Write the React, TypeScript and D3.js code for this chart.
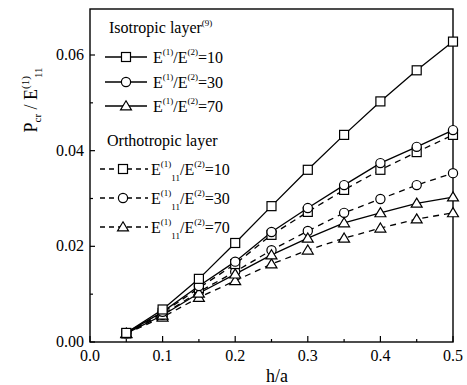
import React from "react";
import * as d3 from "d3";

// h/a values shared by every curve
const hOverA = [0.05, 0.1, 0.15, 0.2, 0.25, 0.3, 0.35, 0.4, 0.45, 0.5];

// Isotropic layer, E(1)/E(2) = 10, 30, 70
const iso10 = [0.0019, 0.0068, 0.0132, 0.0207, 0.0284, 0.036, 0.0433, 0.0503, 0.0568, 0.0628];
const iso30 = [0.0019, 0.0063, 0.0117, 0.0168, 0.023, 0.028, 0.0328, 0.0374, 0.0408, 0.0443];
const iso70 = [0.0018, 0.0056, 0.0102, 0.0142, 0.0182, 0.0217, 0.0249, 0.027, 0.029, 0.0303];

// Orthotropic layer, E11(1)/E(2) = 10, 30, 70
const ortho10 = [0.0018, 0.0061, 0.0113, 0.0163, 0.0224, 0.0272, 0.0318, 0.036, 0.0397, 0.0433];
const ortho30 = [0.0018, 0.0057, 0.0105, 0.0147, 0.0192, 0.0232, 0.027, 0.0299, 0.0328, 0.0353];
const ortho70 = [0.0017, 0.0052, 0.0093, 0.0128, 0.0163, 0.0192, 0.0217, 0.0238, 0.0257, 0.027];

const xTicks = [0, 0.1, 0.2, 0.3, 0.4, 0.5];
const xMinor = [0.05, 0.15, 0.25, 0.35, 0.45];
const yTicks = [0, 0.02, 0.04, 0.06];
const yMinor = [0.01, 0.03, 0.05];

const ratios = ["10", "30", "70"];

type Marker = "square" | "circle" | "triangle";

const series: { values: number[]; marker: Marker; dashed: boolean }[] = [
  { values: ortho70, marker: "triangle", dashed: true },
  { values: ortho30, marker: "circle", dashed: true },
  { values: ortho10, marker: "square", dashed: true },
  { values: iso70, marker: "triangle", dashed: false },
  { values: iso30, marker: "circle", dashed: false },
  { values: iso10, marker: "square", dashed: false },
];

const FONT = "'Liberation Serif', 'Times New Roman', serif";
const DASH = "6,5";

function Symbol({ kind, x, y }: { kind: Marker; x: number; y: number }) {
  const common = { fill: "#fff", stroke: "#000", strokeWidth: 1.2 };
  if (kind === "square") return <rect x={x - 4.5} y={y - 4.5} width={9} height={9} {...common} />;
  if (kind === "circle") return <circle cx={x} cy={y} r={4.6} {...common} />;
  const s = 5.2;
  return (
    <path
      d={`M${x},${y - s} L${x + s * 1.05},${y + s * 0.75} L${x - s * 1.05},${y + s * 0.75} Z`}
      {...common}
    />
  );
}

export default function App() {
  const left = 90, right = 453, top = 9, bottom = 342;
  const x = d3.scaleLinear().domain([0, 0.5]).range([left, right]);
  const y = d3.scaleLinear().domain([0, 0.06]).range([bottom, 55]);

  const line = (vals: number[]) =>
    d3
      .line<number>()
      .x((_, i) => x(hOverA[i]))
      .y((v) => y(v))(vals) as string;

  const isoRows = [57, 82, 106];
  const orthoRows = [169, 198, 227];
  const markers: Marker[] = ["square", "circle", "triangle"];

  return (
    <svg width={467} height={385} style={{ position: "absolute", left: 0, top: 0, background: "#fff" }}>
      <rect x={0} y={0} width={467} height={385} fill="#fff" />
      {/* frame */}
      <rect x={left} y={top} width={right - left} height={bottom - top} fill="none" stroke="#000" strokeWidth={1.4} />

      {/* x ticks */}
      {xTicks.map((t) => (
        <g key={"xt" + t}>
          <line x1={x(t)} x2={x(t)} y1={bottom} y2={bottom - 6} stroke="#000" strokeWidth={1.2} />
          <text x={x(t)} y={361} textAnchor="middle" fontFamily={FONT} fontSize={16}>
            {t.toFixed(1)}
          </text>
        </g>
      ))}
      {xMinor.map((t) => (
        <line key={"xm" + t} x1={x(t)} x2={x(t)} y1={bottom} y2={bottom - 3} stroke="#000" strokeWidth={1.2} />
      ))}
      {/* y ticks */}
      {yTicks.map((t) => (
        <g key={"yt" + t}>
          <line x1={left} x2={left + 5} y1={y(t)} y2={y(t)} stroke="#000" strokeWidth={1.2} />
          <text x={84} y={y(t) + 5} textAnchor="end" fontFamily={FONT} fontSize={16}>
            {t.toFixed(2)}
          </text>
        </g>
      ))}
      {yMinor.map((t) => (
        <line key={"ym" + t} x1={left} x2={left + 3} y1={y(t)} y2={y(t)} stroke="#000" strokeWidth={1.2} />
      ))}

      {/* axis titles */}
      <text x={277} y={382} textAnchor="middle" fontFamily={FONT} fontSize={18}>
        h/a
      </text>
      <text transform="translate(37,100) rotate(-90)" textAnchor="middle" fontFamily={FONT} fontSize={18}>
        P
        <tspan fontSize={11} dy={4}>cr</tspan>
        <tspan dy={-4}> / E</tspan>
        <tspan fontSize={11} dy={-8}>(1)</tspan>
        <tspan fontSize={11} dy={13} dx={-2}>11</tspan>
      </text>

      {/* curves */}
      {series.map((s, k) => (
        <path
          key={"l" + k}
          d={line(s.values)}
          fill="none"
          stroke="#000"
          strokeWidth={1.3}
          strokeDasharray={s.dashed ? DASH : undefined}
        />
      ))}
      {series.map((s, k) =>
        s.values.map((v, i) => <Symbol key={`m${k}-${i}`} kind={s.marker} x={x(hOverA[i])} y={y(v)} />)
      )}

      {/* legend */}
      <text x={109} y={33} fontFamily={FONT} fontSize={16}>
        Isotropic layer
        <tspan fontSize={9} dy={-7}>(9)</tspan>
      </text>
      {isoRows.map((ry, i) => (
        <g key={"li" + i}>
          <line x1={105} x2={147} y1={ry} y2={ry} stroke="#000" strokeWidth={1.3} />
          <Symbol kind={markers[i]} x={126} y={ry} />
          <text x={153} y={ry + 6} fontFamily={FONT} fontSize={16}>
            E<tspan fontSize={9} dy={-8}>(1)</tspan>
            <tspan dy={8}>/E</tspan>
            <tspan fontSize={9} dy={-8}>(2)</tspan>
            <tspan dy={8}>={ratios[i]}</tspan>
          </text>
        </g>
      ))}
      <text x={107} y={146} fontFamily={FONT} fontSize={16}>
        Orthotropic layer
      </text>
      {orthoRows.map((ry, i) => (
        <g key={"lo" + i}>
          <line x1={100} x2={148} y1={ry} y2={ry} stroke="#000" strokeWidth={1.3} strokeDasharray="5,4" />
          <Symbol kind={markers[i]} x={123} y={ry} />
          <text x={151} y={ry + 6} fontFamily={FONT} fontSize={16}>
            E<tspan fontSize={9} dy={-8}>(1)</tspan>
            <tspan fontSize={9} dy={14}>11</tspan>
            <tspan dy={-6}>/E</tspan>
            <tspan fontSize={9} dy={-8}>(2)</tspan>
            <tspan dy={8}>={ratios[i]}</tspan>
          </text>
        </g>
      ))}
    </svg>
  );
}
